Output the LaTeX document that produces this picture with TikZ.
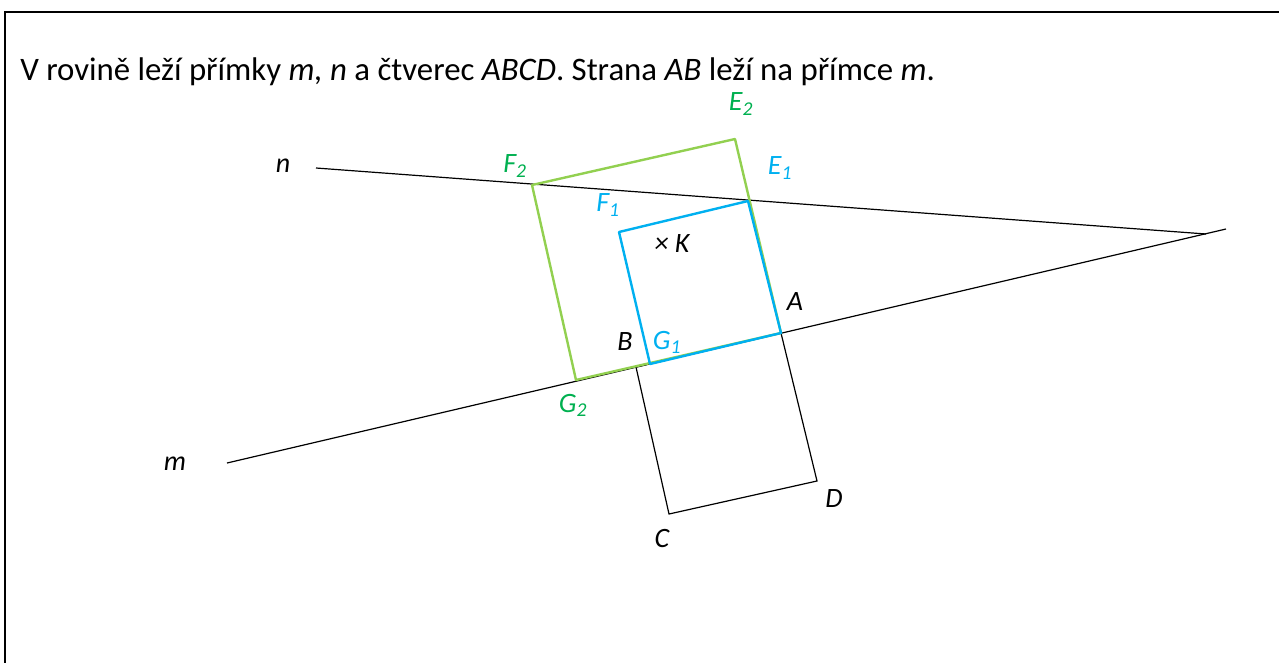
\documentclass[tikz,border=0pt]{standalone}
\usepackage{fontspec}
\setmainfont{Carlito}
\definecolor{ink}{HTML}{000000}
\definecolor{lgreen}{HTML}{92D050}
\definecolor{dgreen}{HTML}{00B050}
\definecolor{sky}{HTML}{00B0F0}

\begin{document}
\begin{tikzpicture}[x=0.75pt,y=-0.75pt,
  ln/.style={line width=0.9pt,draw=ink},
  sqone/.style={line width=1.8pt,draw=sky,line join=round},
  sqtwo/.style={line width=1.8pt,draw=lgreen,line join=round},
  lbl/.style={font=\fontsize{21}{25}\selectfont\itshape,inner sep=0pt,text=ink},
]
  \clip (0,0) rectangle (1279,662);
  \draw[line width=1.5pt] (5,700) -- (5,12) -- (1300,12);
  \node[anchor=west,inner sep=0pt,font=\fontsize{24.6}{29}\selectfont] (title) at (20,72)
    {V rovině leží přímky \textit{m, n} a čtverec \textit{ABCD}. Strana \textit{AB} leží na přímce \textit{m}.};

  % lines m, n
  \coordinate (n0) at (316,168);
  \coordinate (X)  at (1206,234);
  \coordinate (m0) at (227,463);
  \coordinate (m1) at (1226,229);
  % square ABCD
  \coordinate (A) at (781,333);
  \coordinate (B) at (636,367);
  \coordinate (C) at (669,514);
  \coordinate (D) at (817,481);
  % squares AE1F1G1 and AE2F2G2
  \coordinate (E1) at (748,201);
  \coordinate (F1) at (619,232);
  \coordinate (G1) at (650,364);
  \coordinate (E2) at (735,139);
  \coordinate (F2) at (532,185);
  \coordinate (G2) at (576,380);

  \draw[ln] (n0) -- (X);
  \draw[ln] (m0) -- (m1);
  \draw[ln] (A) -- (B) -- (C) -- (D) -- cycle;
  \draw[sqtwo] (A) -- (E2) -- (F2) -- (G2) -- cycle;
  \draw[sqone] (A) -- (E1) -- (F1) -- (G1) -- cycle;

  \node[lbl] (ln) at (283,166) {n};
  \node[lbl] (lm) at (175,464) {m};
  \node[lbl] (lA) at (795,302) {A};
  \node[lbl] (lB) at (625,342) {B};
  \node[lbl] (lC) at (662,538) {C};
  \node[lbl] (lD) at (834,499) {D};
  \node[lbl] (lK) at (672,244) {× K};
  \node[lbl,text=sky] (lE1) at (780,168) {E\textsubscript{1}};
  \node[lbl,text=sky] (lF1) at (608,205) {F\textsubscript{1}};
  \node[lbl,text=sky] (lG1) at (667,342) {G\textsubscript{1}};
  \node[lbl,text=dgreen] (lE2) at (741,104) {E\textsubscript{2}};
  \node[lbl,text=dgreen] (lF2) at (515,166) {F\textsubscript{2}};
  \node[lbl,text=dgreen] (lG2) at (573,405) {G\textsubscript{2}};
\end{tikzpicture}
\end{document}
